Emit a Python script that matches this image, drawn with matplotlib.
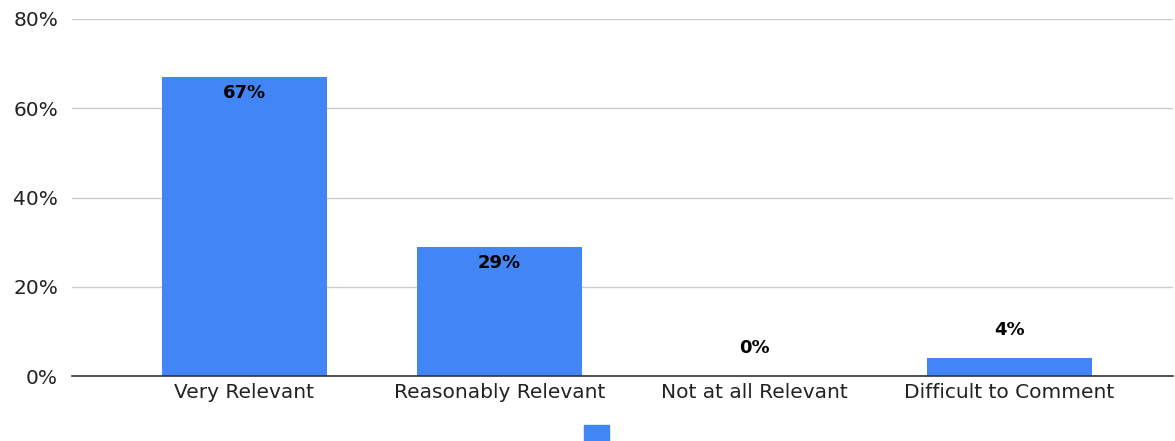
import matplotlib.pyplot as plt
from matplotlib.patches import Patch
from matplotlib.ticker import PercentFormatter

# survey answers, share of respondents (%)
categories = ["Very Relevant", "Reasonably Relevant", "Not at all Relevant", "Difficult to Comment"]
values = [67, 29, 0, 4]
yticks = [0, 20, 40, 60, 80]

blue = "#4285F4"

# reference text is wide, DejaVu Sans comes closest
plt.rcParams["font.family"] = ["DejaVu Sans"]

fig = plt.figure(figsize=(11.75, 4.41), dpi=100)
ax = fig.add_axes([72 / 1175, 65 / 441, 1101 / 1175, 357 / 441])

x = range(len(categories))
bars = ax.bar(x, values, width=0.647, color=blue, zorder=2)

# labels: inside near the top for tall bars, above for short ones
for xi, v in zip(x, values):
    off = -11.5 if v > 10 else 20
    ax.annotate(f"{v}%", (xi, v), xytext=(0, off), textcoords="offset points",
                ha="center", va="center", fontsize=13, fontweight="bold")

ax.set_xlim(-0.676, 3.641)
ax.set_ylim(0, 80)
ax.set_yticks(yticks)
ax.yaxis.set_major_formatter(PercentFormatter(decimals=0))
ax.set_xticks(list(x))
ax.set_xticklabels(categories)
ax.tick_params(axis="both", length=0, labelsize=14.5, colors="#222222")
ax.tick_params(axis="y", pad=10)
ax.tick_params(axis="x", pad=5)

ax.grid(axis="y", color="#cccccc", linewidth=1, zorder=0)
for s in ["top", "right", "left"]:
    ax.spines[s].set_visible(False)
ax.spines["bottom"].set_color("#333333")
ax.spines["bottom"].set_linewidth(1.2)
ax.spines["bottom"].set_zorder(3)

fig.legend(handles=[Patch(color=blue)], labels=[""], loc="center",
           bbox_to_anchor=(602 / 1175, 1 - 433 / 441), frameon=False,
           handlelength=1.8, handleheight=1.4, borderpad=0)

fig.savefig("out.png", dpi=100)
